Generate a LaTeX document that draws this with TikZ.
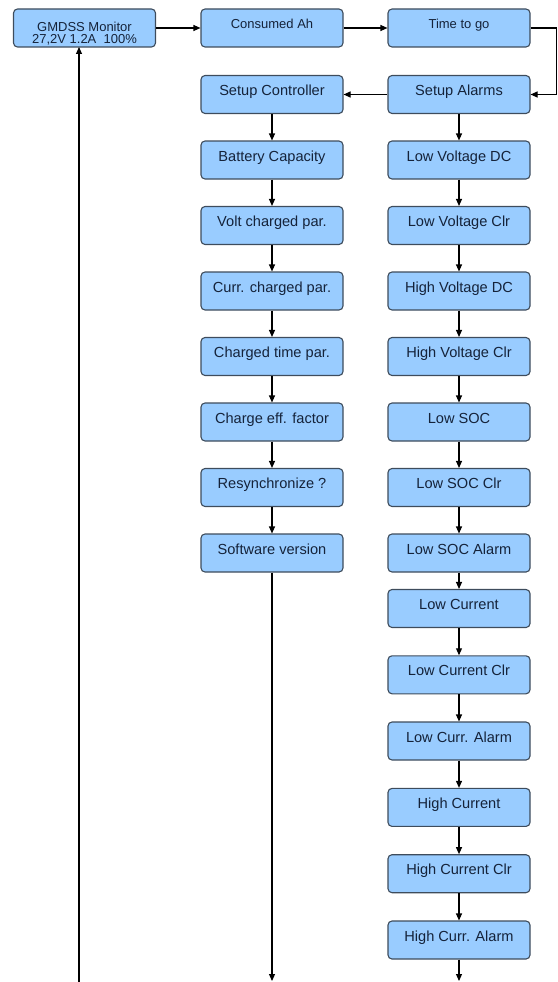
\documentclass[tikz,border=0pt]{standalone}
\usepackage{fontspec}
\setmainfont{Liberation Sans}
\usetikzlibrary{arrows.meta}
\definecolor{boxfill}{HTML}{99CCFF}
\definecolor{boxdraw}{HTML}{3E4C5C}
\definecolor{boxtext}{HTML}{15233A}
\begin{document}
\begin{tikzpicture}[x=1pt,y=-1pt,
  box/.style={draw=boxdraw,fill=boxfill,rounded corners=4pt,line width=1.1pt,
    minimum width=142pt,minimum height=38pt,inner sep=0pt,text=boxtext,
    font=\fontsize{14.6}{16}\selectfont,text height=8pt,text depth=6pt},
  topbox/.style={box,font=\fontsize{13}{15}\selectfont},
  con/.style={line width=1.1pt,-{Triangle[length=7pt,width=6pt]}}]
\useasboundingbox (0,0) rectangle (557,982);
% top row
\node[topbox,text height=32pt,text depth=0pt] (gm) at (84.5,28) {\shortstack{GMDSS Monitor\\27,2V 1.2A\ \ 100\%}};
\node[topbox] (ca) at (272,28) {Consumed Ah};
\node[topbox] (tg) at (459,28) {Time to go};
% left column
\node[box] (l0) at (272,94.5) {Setup Controller};
\node[box] (l1) at (272,160) {Battery Capacity};
\node[box] (l2) at (272,225.5) {Volt charged par.};
\node[box] (l3) at (272,291) {Curr. charged par.};
\node[box] (l4) at (272,356.5) {Charged time par.};
\node[box] (l5) at (272,422) {Charge eff. factor};
\node[box] (l6) at (272,487.5) {Resynchronize ?};
\node[box] (l7) at (272,553) {Software version};
% right column
\node[box] (r0) at (459,94.5) {Setup Alarms};
\node[box] (r1) at (459,160) {Low Voltage DC};
\node[box] (r2) at (459,225.5) {Low Voltage Clr};
\node[box] (r3) at (459,291) {High Voltage DC};
\node[box] (r4) at (459,356.5) {High Voltage Clr};
\node[box] (r5) at (459,422) {Low SOC};
\node[box] (r6) at (459,487.5) {Low SOC Clr};
\node[box] (r7) at (459,553) {Low SOC Alarm};
\node[box] (r8) at (459,608.5) {Low Current};
\node[box] (r9) at (459,674.8) {Low Current Clr};
\node[box] (r10) at (459,741) {Low Curr. Alarm};
\node[box] (r11) at (459,807.4) {High Current};
\node[box] (r12) at (459,873.7) {High Current Clr};
\node[box] (r13) at (459,940) {High Curr. Alarm};
% coordinates
\coordinate (c1) at (556.4,28);
\coordinate (c2) at (556.4,94.5);
\coordinate (bl) at (79,982);
\coordinate (gmin) at (79,47);
\coordinate (bm) at (272,981);
\coordinate (br) at (459,981);
% connectors
\draw[con] (gm) -- (ca);
\draw[con] (ca) -- (tg);
\draw[con] (tg.east) -- (c1) -- (c2) -- (r0.east);
\draw[con] (r0) -- (l0);
\foreach \a/\b in {l0/l1,l1/l2,l2/l3,l3/l4,l4/l5,l5/l6,l6/l7}
  \draw[con] (\a) -- (\b);
\foreach \a/\b in {r0/r1,r1/r2,r2/r3,r3/r4,r4/r5,r5/r6,r6/r7,r7/r8,r8/r9,r9/r10,r10/r11,r11/r12,r12/r13}
  \draw[con] (\a) -- (\b);
\draw[con] (l7) -- (bm);
\draw[con] (r13) -- (br);
\draw[con] (bl) -- (gmin);
\end{tikzpicture}
\end{document}
